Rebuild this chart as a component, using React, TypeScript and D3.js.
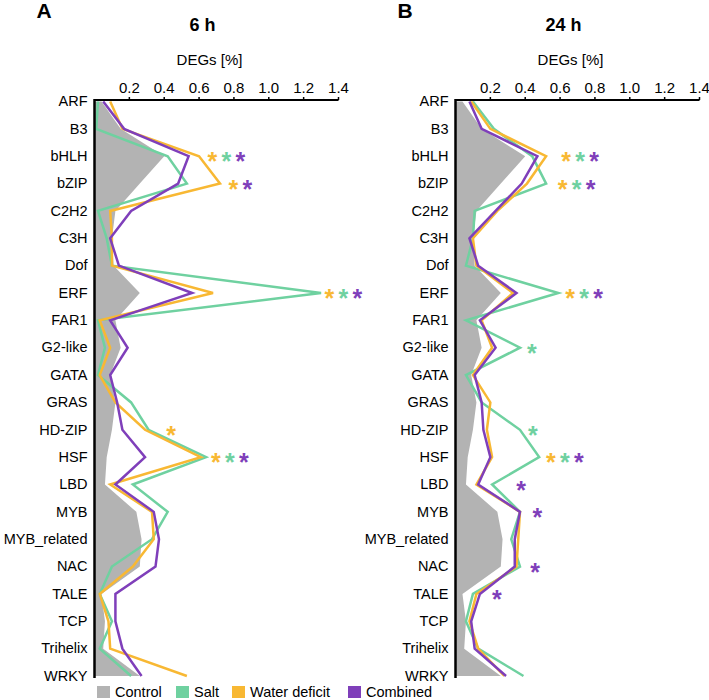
import React, { useEffect } from "react";
import * as d3 from "d3";

// TF families, top to bottom
const categories = [
  "ARF", "B3", "bHLH", "bZIP", "C2H2", "C3H", "Dof", "ERF", "FAR1", "G2-like", "GATA",
  "GRAS", "HD-ZIP", "HSF", "LBD", "MYB", "MYB_related", "NAC", "TALE", "TCP", "Trihelix", "WRKY",
];

// DEGs [%] per family
const control = [0.04, 0.15, 0.40, 0.26, 0.12, 0.10, 0.11, 0.26, 0.12, 0.15, 0.09, 0.12, 0.10, 0.07, 0.06, 0.24, 0.27, 0.26, 0.04, 0.06, 0.05, 0.26];

const salt6 = [0.02, 0.01, 0.42, 0.53, 0.02, 0.07, 0.10, 1.30, 0.02, 0.06, 0.02, 0.21, 0.31, 0.64, 0.22, 0.42, 0.33, 0.10, 0.03, 0.10, 0.03, 0.21];
const water6 = [0.09, 0.16, 0.60, 0.72, 0.09, 0.10, 0.10, 0.68, 0.03, 0.09, 0.03, 0.12, 0.29, 0.61, 0.09, 0.33, 0.34, 0.22, 0.03, 0.08, 0.09, 0.53];
const combined6 = [0.05, 0.17, 0.54, 0.48, 0.21, 0.09, 0.14, 0.56, 0.09, 0.19, 0.09, 0.13, 0.16, 0.29, 0.12, 0.34, 0.37, 0.35, 0.12, 0.12, 0.16, 0.27];

const salt24 = [0.10, 0.22, 0.44, 0.52, 0.11, 0.10, 0.06, 0.59, 0.06, 0.37, 0.06, 0.15, 0.37, 0.48, 0.21, 0.37, 0.32, 0.37, 0.10, 0.06, 0.13, 0.39];
const water24 = [0.09, 0.20, 0.52, 0.41, 0.24, 0.10, 0.12, 0.33, 0.15, 0.21, 0.10, 0.20, 0.18, 0.21, 0.12, 0.37, 0.36, 0.35, 0.12, 0.08, 0.13, 0.28];
const combined24 = [0.08, 0.15, 0.47, 0.38, 0.23, 0.08, 0.13, 0.35, 0.14, 0.23, 0.11, 0.15, 0.16, 0.20, 0.13, 0.37, 0.34, 0.34, 0.14, 0.09, 0.11, 0.29];

const tickValues = [0.2, 0.4, 0.6, 0.8, 1.0, 1.2, 1.4];

// significance stars: family, which series, where the first star sits (DEGs %)
const stars6: [string, string[], number][] = [
  ["bHLH", ["water", "salt", "combined"], 0.676],
  ["bZIP", ["water", "combined"], 0.797],
  ["ERF", ["water", "salt", "combined"], 1.347],
  ["HD-ZIP", ["water"], 0.44],
  ["HSF", ["water", "salt", "combined"], 0.697],
];
const stars24: [string, string[], number][] = [
  ["bHLH", ["water", "salt", "combined"], 0.634],
  ["bZIP", ["water", "salt", "combined"], 0.615],
  ["ERF", ["water", "salt", "combined"], 0.657],
  ["G2-like", ["salt"], 0.438],
  ["HD-ZIP", ["salt"], 0.444],
  ["HSF", ["water", "salt", "combined"], 0.547],
  ["LBD", ["combined"], 0.377],
  ["MYB", ["combined"], 0.47],
  ["NAC", ["combined"], 0.457],
  ["TALE", ["combined"], 0.238],
];

const colors: Record<string, string> = {
  control: "#b3b3b3",
  salt: "#6fd1a0",
  water: "#f8b833",
  combined: "#7f3fba",
};

const font = "Arial, 'Liberation Sans', Helvetica, sans-serif";

const Panel = ({ x0, letter, title, salt, water, combined, stars }) => {
  const x = d3.scaleLinear().domain([0, 1.4]).range([x0, x0 + 244]);
  const y = d3.scalePoint().domain(categories).range([101.5, 676]);
  const fmt = d3.format(".1f");

  const area = d3
    .area<number>()
    .y((d, i) => y(categories[i]))
    .x0(x(0))
    .x1((d) => x(d));
  const line = d3
    .line<number>()
    .y((d, i) => y(categories[i]))
    .x((d) => x(d));

  const mid = x0 + 108;

  return (
    <g fontFamily={font}>
      <text x={x0 - 58} y={18} fontSize={21} fontWeight="bold">{letter}</text>
      <text x={mid} y={30.5} fontSize={18} fontWeight="bold" textAnchor="middle">{title}</text>
      <text x={mid + 7} y={65} fontSize={15} textAnchor="middle">DEGs [%]</text>

      <path d={area(control)} fill={colors.control} />
      <path d={line(salt)} fill="none" stroke={colors.salt} strokeWidth={2.5} />
      <path d={line(water)} fill="none" stroke={colors.water} strokeWidth={2.5} />
      <path d={line(combined)} fill="none" stroke={colors.combined} strokeWidth={2.5} />

      {/* axes */}
      <line x1={x(0)} x2={x(1.4)} y1={100} y2={100} stroke="#000" strokeWidth={2} />
      <line x1={x(0)} x2={x(0)} y1={99} y2={678} stroke="#000" strokeWidth={2.5} />
      {tickValues.map((t) => (
        <g key={t}>
          <line x1={x(t)} x2={x(t)} y1={100} y2={97} stroke="#000" strokeWidth={1.5} />
          <text x={x(t)} y={92.5} fontSize={15} textAnchor="middle">{fmt(t)}</text>
        </g>
      ))}
      {categories.map((c) => (
        <text key={c} x={x0 - 7} y={y(c)} dy="0.33em" fontSize={14.5} textAnchor="end">{c}</text>
      ))}

      {stars.map(([cat, series, start]) =>
        series.map((s, j) => (
          <text
            key={cat + s}
            x={x(start) + j * 14}
            y={y(cat) + 14}
            fontSize={25}
            fontWeight="bold"
            textAnchor="middle"
            fill={colors[s]}
          >
            *
          </text>
        ))
      )}
    </g>
  );
};

const legendItems = [
  ["Control", "control", 97],
  ["Salt", "salt", 176],
  ["Water deficit", "water", 232],
  ["Combined", "combined", 348],
];

export default function App() {
  useEffect(() => {
    document.body.style.margin = "0";
  }, []);
  return (
    <svg width={709} height={700} style={{ display: "block", background: "#fff" }}>
      <Panel x0={94.5} letter="A" title="6 h" salt={salt6} water={water6} combined={combined6} stars={stars6} />
      <Panel x0={455.5} letter="B" title="24 h" salt={salt24} water={water24} combined={combined24} stars={stars24} />
      <g fontFamily={font}>
        {legendItems.map(([label, key, lx]) => (
          <g key={key as string}>
            <rect x={lx as number} y={686} width={13} height={12} fill={colors[key as string]} />
            <text x={(lx as number) + 18} y={697} fontSize={14.5}>{label}</text>
          </g>
        ))}
      </g>
    </svg>
  );
}
